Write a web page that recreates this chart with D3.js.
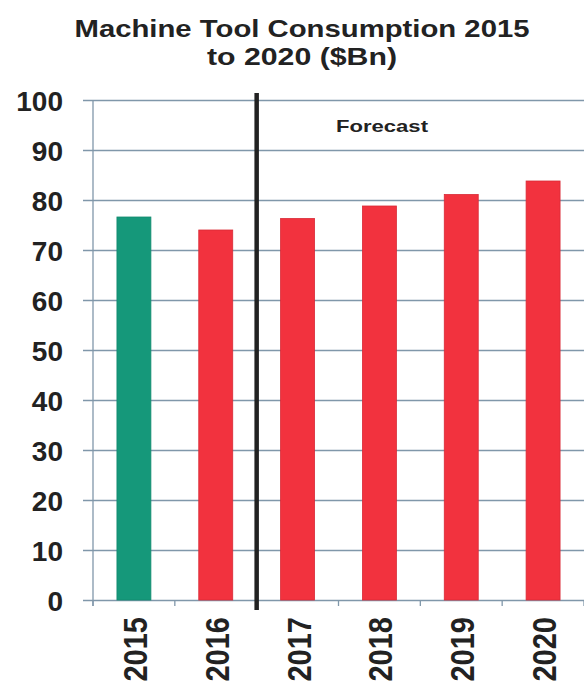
<!DOCTYPE html>
<html>
<head>
<meta charset="utf-8">
<script src="https://cdn.jsdelivr.net/npm/d3@7"></script>
<style>
  html, body { margin: 0; padding: 0; background: #fff; }
  svg { display: block; }
  text { font-family: "Liberation Sans", Arial, sans-serif; font-weight: bold; fill: #222; }
</style>
</head>
<body>
<svg id="chart" width="584" height="684"></svg>
<script>
const years = ["2015", "2016", "2017", "2018", "2019", "2020"];
const values = [76.6, 74.0, 76.3, 78.8, 81.1, 83.8];
const barColors = ["#15987a", "#f2323e", "#f2323e", "#f2323e", "#f2323e", "#f2323e"];
const yTicks = [0, 10, 20, 30, 40, 50, 60, 70, 80, 90, 100];
const titleLines = ["Machine Tool Consumption 2015", "to 2020 ($Bn)"];
const forecastLabel = "Forecast";
const forecastAfter = "2016";

const svg = d3.select("#chart");
const x = d3.scaleBand().domain(years).range([93, 584]).paddingInner(0.585).paddingOuter(0.2925);
const y = d3.scaleLinear().domain([0, 100]).range([600, 100]);

const gridColor = "#8097aa";

// title
svg.append("text").attr("x", 302).attr("y", 37).attr("text-anchor", "middle")
  .attr("font-size", 24.5).attr("textLength", 455).attr("lengthAdjust", "spacingAndGlyphs")
  .text(titleLines[0]);
svg.append("text").attr("x", 302).attr("y", 65).attr("text-anchor", "middle")
  .attr("font-size", 24.5).attr("textLength", 190).attr("lengthAdjust", "spacingAndGlyphs")
  .text(titleLines[1]);

// gridlines + y axis
const yAxis = d3.axisLeft(y).tickValues(yTicks).tickSize(0).tickPadding(0);
const gy = svg.append("g").attr("transform", "translate(93,0)").call(yAxis);
gy.select(".domain").remove();
gy.selectAll(".tick line").attr("x1", -10).attr("x2", 584 - 93).attr("stroke", gridColor).attr("stroke-width", 1.3);
gy.selectAll(".tick text").attr("x", -30).attr("dy", "0.36em")
  .attr("font-size", 28).attr("font-family", "Liberation Sans, Arial, sans-serif")
  .attr("font-weight", "bold").attr("fill", "#222");

// y axis line
svg.append("line").attr("x1", 93).attr("x2", 93).attr("y1", y(100)).attr("y2", y(0) + 6)
  .attr("stroke", gridColor).attr("stroke-width", 1.3);

// x ticks at band boundaries
const step = x.step();
const firstEdge = x(years[0]) - (step - x.bandwidth()) / 2;
svg.append("g").selectAll("line").data(d3.range(years.length + 1)).join("line")
  .attr("x1", i => firstEdge + i * step).attr("x2", i => firstEdge + i * step)
  .attr("y1", y(0)).attr("y2", y(0) + 6)
  .attr("stroke", gridColor).attr("stroke-width", 1.3);

// bars
svg.append("g").selectAll("rect").data(years).join("rect")
  .attr("x", d => x(d)).attr("width", x.bandwidth())
  .attr("y", (d, i) => y(values[i])).attr("height", (d, i) => y(0) - y(values[i]))
  .attr("fill", (d, i) => barColors[i])
  .attr("stroke", (d, i) => i === 0 ? "#138a6e" : "#d92a36").attr("stroke-width", 0.8);

// x labels
svg.append("g").selectAll("text").data(years).join("text")
  .attr("transform", d => `translate(${x(d) + x.bandwidth() / 2 + 1},617) scale(1.15,1) rotate(-90)`)
  .attr("text-anchor", "end").attr("dy", "0.36em").attr("font-size", 29)
  .text(d => d);

// forecast divider
const fx = x(forecastAfter) + x.bandwidth() + (step - x.bandwidth()) / 2;
svg.append("line").attr("x1", fx).attr("x2", fx).attr("y1", 93).attr("y2", 610)
  .attr("stroke", "#222").attr("stroke-width", 4.5);

svg.append("text").attr("x", 382).attr("y", 132).attr("text-anchor", "middle")
  .attr("font-size", 17).attr("textLength", 92).attr("lengthAdjust", "spacingAndGlyphs")
  .text(forecastLabel);
</script>
</body>
</html>
